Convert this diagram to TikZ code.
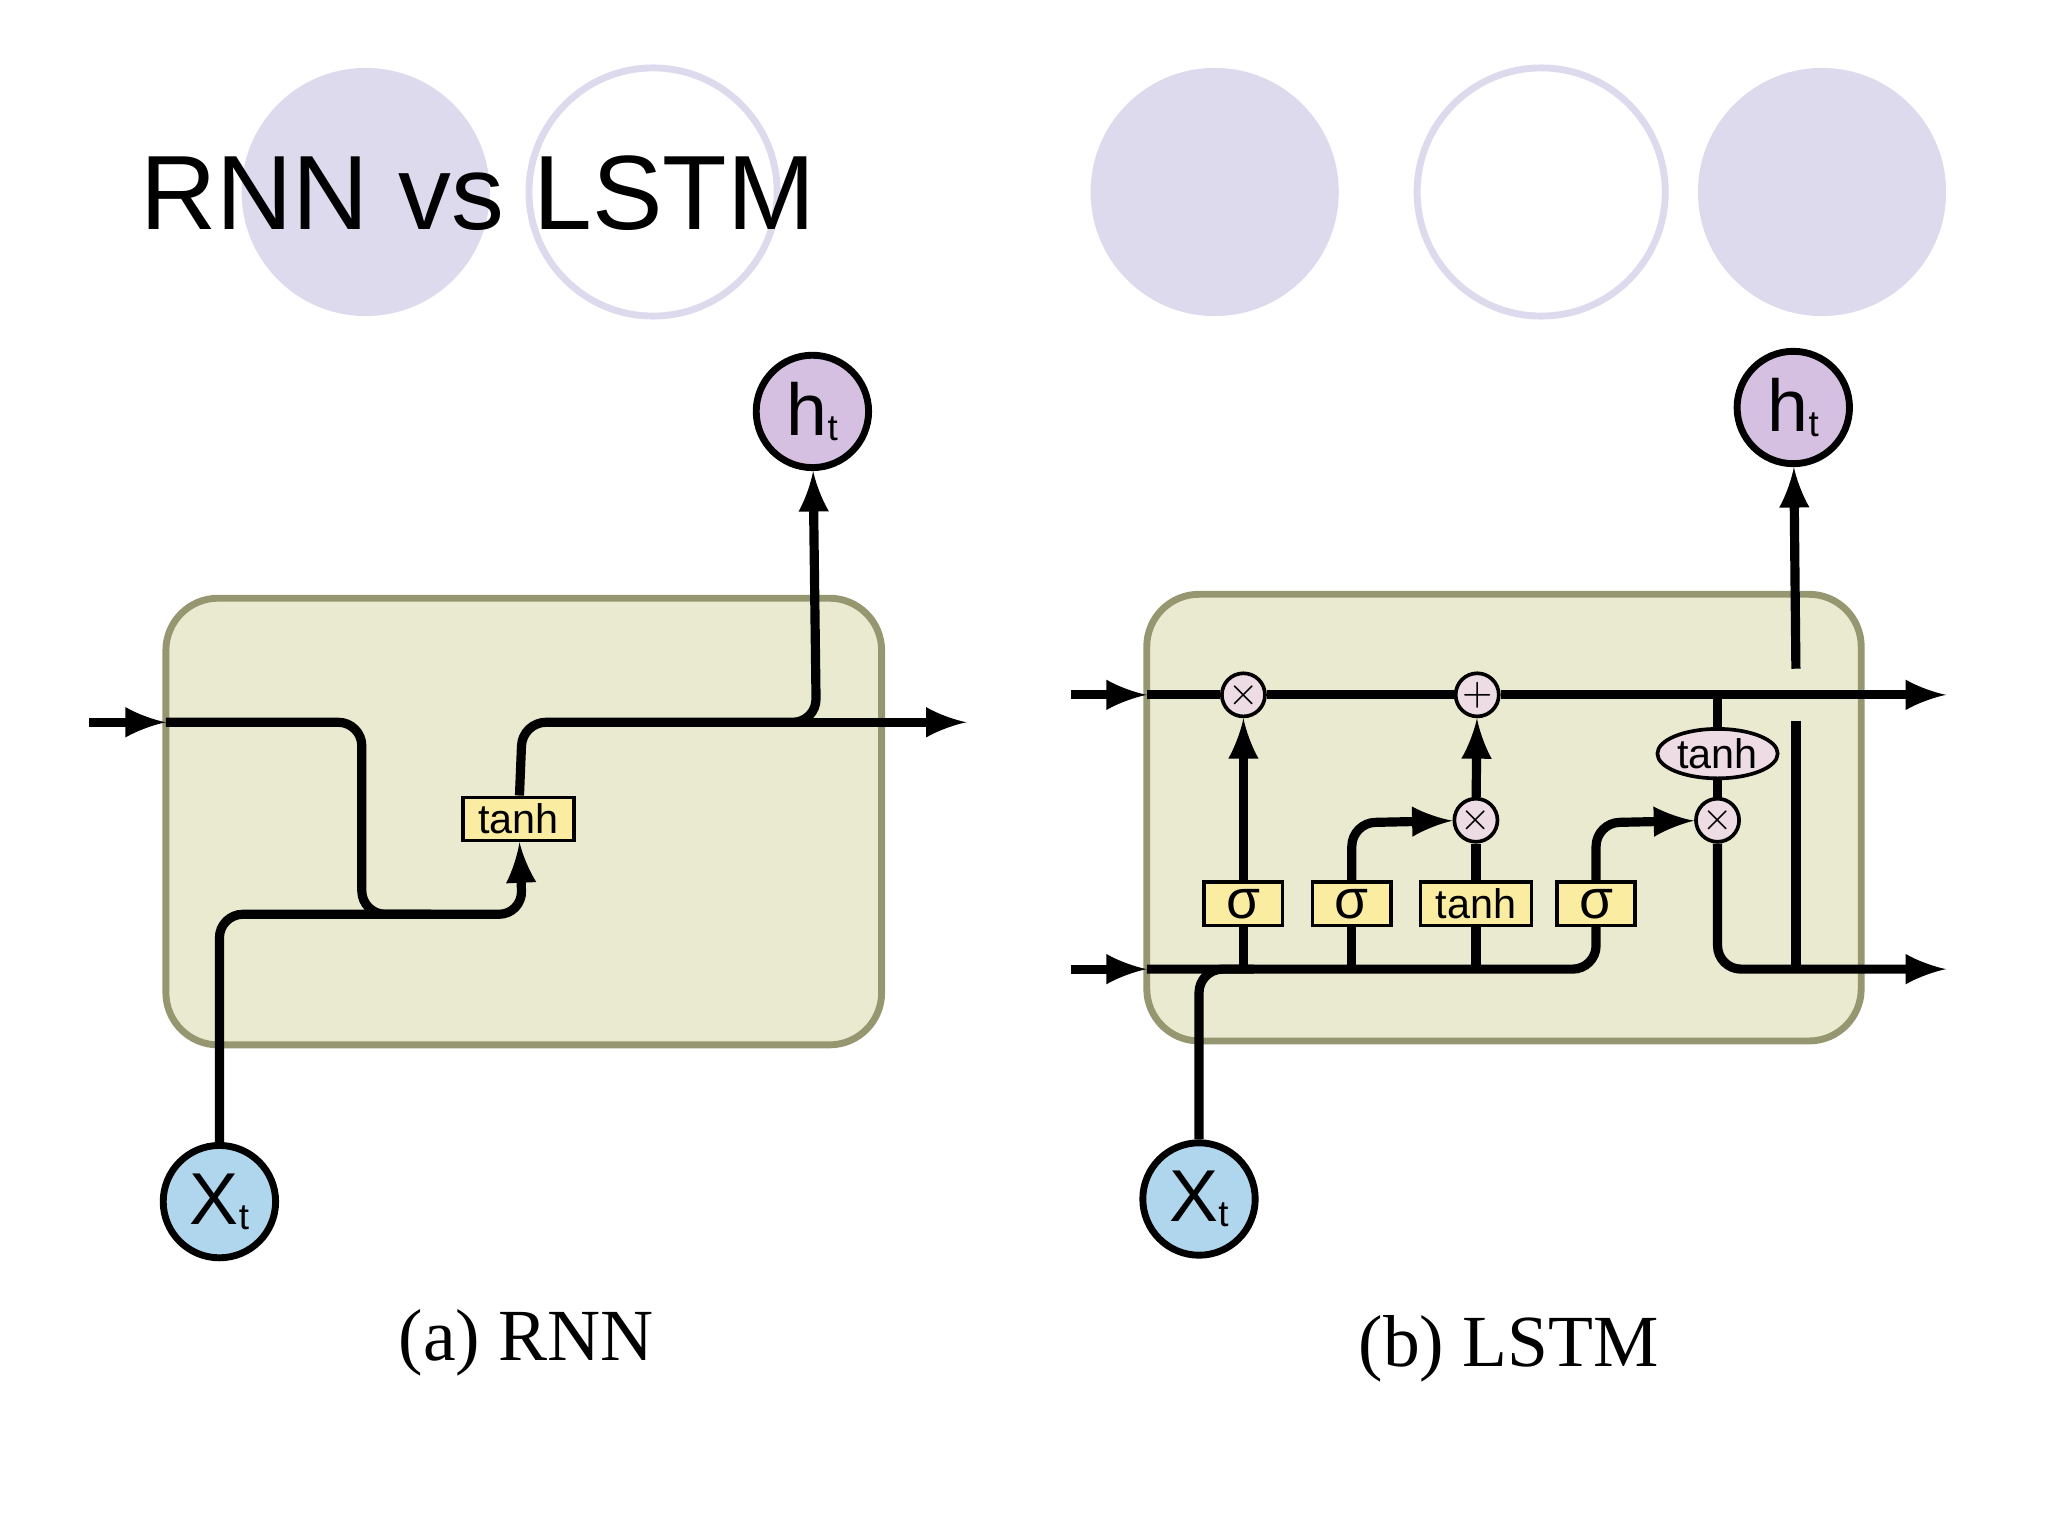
\documentclass[tikz,border=0pt]{standalone}
\usepackage{fontspec}
\setmainfont{Liberation Sans}
\newfontfamily\capfont{Liberation Serif}
\usetikzlibrary{shapes.geometric}
\definecolor{lav}{RGB}{220,218,236}
\definecolor{cellfill}{RGB}{234,234,208}
\definecolor{celldraw}{RGB}{150,150,112}
\definecolor{gatefill}{RGB}{250,236,160}
\definecolor{opfill}{RGB}{238,220,228}
\definecolor{xfill}{RGB}{176,214,238}
\definecolor{hfill}{RGB}{214,192,226}
\newcommand{\sub}[2]{#1\raisebox{-1pt}{\fontsize{8}{8}\selectfont #2}}
\tikzset{
  cell/.style={draw=celldraw, line width=1.5pt, fill=cellfill, rounded corners=0.4cm},
  wire/.style={line width=2pt, rounded corners=0.18cm},
  gate/.style={draw, fill=gatefill, line width=0.8pt, minimum height=0.33cm, inner sep=1pt, font=\fontsize{9}{9}\selectfont},
  op/.style={circle, draw, fill=opfill, line width=0.8pt, minimum size=0.33cm, inner sep=0pt, font=\fontsize{8}{8}\selectfont},
  io/.style={circle, draw, line width=1.5pt, minimum size=0.86cm, inner sep=0pt, font=\fontsize{16}{16}\selectfont},
}
\begin{document}
\begin{tikzpicture}[x=0.01cm, y=-0.01cm]
	\useasboundingbox (0,0) rectangle (1568,1176);

	% Background
	\fill[lav] (280,147) circle (95);
	\draw[lav, line width=1.5pt] (500,147) circle (95);
	\fill[lav] (930,147) circle (95);
	\draw[lav, line width=1.5pt] (1180,147) circle (95);
	\fill[lav] (1395,147) circle (95);
	\node[anchor=base west, font=\fontsize{23}{23}\selectfont] (title) at (95,176) {RNN vs LSTM};

	% RNN
	\draw[cell] (127,458) rectangle (675,800);
	\node[gate, minimum width=0.85cm] (rtanh) at (397,627) {tanh};
	\node[io, fill=xfill] (rx) at (168,920) {\sub{X}{t}};
	\node[io, fill=hfill] (rh) at (622,315) {\sub{h}{t}};
	\coordinate (rin) at (68,553);
	\coordinate (rout) at (740,553);
	\draw[wire, -latex] (rin) -- (127,553);
	\draw[wire] (127,553) -- (277,553) -- (277,700) -- (330,700);
	\draw[wire, -latex] (rx) -- (168,700) -- (400,700) -- (rtanh);
	\draw[wire, -latex] (rtanh) -- (400,553) -- (625,553) -- (rh);
	\draw[wire, -latex] (600,553) -- (rout);

	% LSTM
	\draw[cell] (878,455) rectangle (1425,797);
	\node[op] (mf) at (952,532) {$\times$};
	\node[op] (pc) at (1131,532) {$+$};
	\node[op] (mi) at (1130,628) {$\times$};
	\node[op] (mo) at (1315,628) {$\times$};
	\node[ellipse, draw, fill=opfill, line width=0.8pt, inner sep=0.5pt, font=\fontsize{9}{9}\selectfont] (ctanh) at (1315,577) {tanh};
	\node[gate, minimum width=0.6cm, font=\fontsize{12}{12}\selectfont] (sf) at (952,692) {σ};
	\node[gate, minimum width=0.6cm, font=\fontsize{12}{12}\selectfont] (si) at (1035,692) {σ};
	\node[gate, minimum width=0.85cm] (gt) at (1130,692) {tanh};
	\node[gate, minimum width=0.6cm, font=\fontsize{12}{12}\selectfont] (so) at (1222,692) {σ};
	\node[io, fill=xfill] (lx) at (918,918) {\sub{X}{t}};
	\node[io, fill=hfill] (lh) at (1373,312) {\sub{h}{t}};
	\coordinate (cin) at (820,532);
	\coordinate (cout) at (1490,532);
	\coordinate (hin) at (820,742);
	\coordinate (hout) at (1490,742);
	\draw[wire, -latex] (cin) -- (878,532);
	\draw[wire, -latex] (878,532) -- (mf) -- (pc) -- (cout);
	\draw[wire, -latex] (hin) -- (878,742);
	\draw[wire] (878,742) -- (1222,742) -- (so);
	\draw[wire] (lx) -- (918,742) -- (960,742);
	\draw[wire] (952,742) -- (sf);
	\draw[wire] (1035,742) -- (si);
	\draw[wire] (1130,742) -- (gt);
	\draw[wire, -latex] (sf) -- (mf);
	\draw[wire, -latex] (si) -- (1035,630) -- (mi);
	\draw[wire] (gt) -- (mi);
	\draw[wire, -latex] (mi) -- (pc);
	\draw[wire, -latex] (so) -- (1222,630) -- (mo);
	\draw[wire] (1315,532) -- (ctanh) -- (mo);
	\draw[wire, -latex] (mo) -- (1315,742) -- (hout);
	\draw[wire] (1375,742) -- (1375,552);
	\draw[wire, -latex] (1375,512) -- (lh);

	% Captions
	\node[font=\capfont\fontsize{16}{16}\selectfont] (ca) at (403,1028) {(a) RNN};
	\node[font=\capfont\fontsize{16}{16}\selectfont] (cb) at (1155,1033) {(b) LSTM};
\end{tikzpicture}
\end{document}
